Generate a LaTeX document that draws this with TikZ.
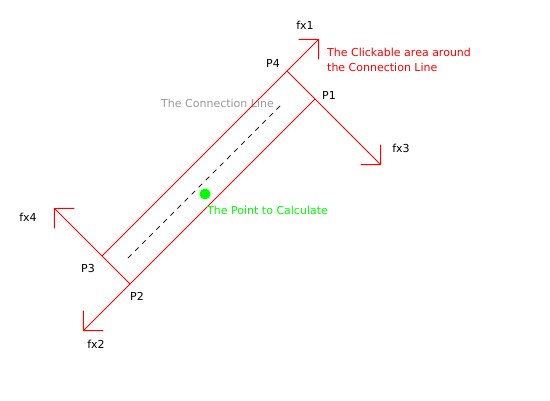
\documentclass[tikz,border=0pt]{standalone}
\usepackage{fontspec}
\setmainfont{DejaVu Sans}
\usetikzlibrary{arrows.meta}
\definecolor{linegray}{RGB}{153,153,153}
\tikzset{
  arealine/.style={draw=red, line width=0.9pt},
  fxarrow/.style={arealine, -{Straight Barb[length=14.1pt,width=28.3pt]}},
  lbl/.style={inner sep=0pt, font=\fontsize{11}{15}\selectfont},
}
\begin{document}
\begin{tikzpicture}[x=1pt,y=-1pt]
            \useasboundingbox (0,0) rectangle (550,400);
            % corners of the clickable area
            \coordinate (P1) at (315,99);
            \coordinate (P2) at (130,284);
            \coordinate (P3) at (102,256);
            \coordinate (P4) at (287,71);
            % arrow ends
            \coordinate (fx1) at (319,39);
            \coordinate (fx2) at (83,331);
            \coordinate (fx3) at (381,165);
            \coordinate (fx4) at (54,208);
            % connection line
            \coordinate (lineA) at (128,258);
            \coordinate (lineB) at (282,104);
            \node[lbl, text=linegray, anchor=base west] (conlbl) at (161,107) {The Connection Line};
            \draw [fxarrow] (P3) -- (fx1);
            \draw [fxarrow] (P1) -- (fx2);
            \draw [fxarrow] (P4) -- (fx3);
            \draw [fxarrow] (P2) -- (fx4);
            \draw [black!85, line width=0.8pt, dash pattern=on 5pt off 5pt] (lineA) -- (lineB);
            \node[lbl] (fx1lbl) at (305,25) {fx1};
            \node[lbl] (fx2lbl) at (96,344) {fx2};
            \node[lbl] (fx3lbl) at (401,148) {fx3};
            \node[lbl] (fx4lbl) at (28,217) {fx4};
            \node[lbl] (P1lbl) at (329,95) {P1};
            \node[lbl] (P2lbl) at (137,296) {P2};
            \node[lbl] (P3lbl) at (88,268) {P3};
            \node[lbl] (P4lbl) at (273,63) {P4};
            \node[lbl, text=red, anchor=north west, align=left] (arealbl) at (327,48) {The Clickable area around\\the Connection Line};
            \fill [green] (205,194) circle (5.5);
            \node[lbl, text=green, anchor=base west] (pointlbl) at (207,214) {The Point to Calculate};
        \end{tikzpicture}
\end{document}
